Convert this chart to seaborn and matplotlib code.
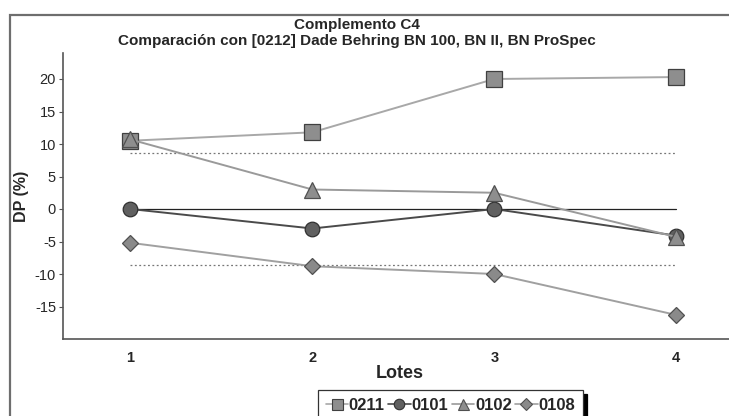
import matplotlib
matplotlib.use("Agg")
import matplotlib.pyplot as plt
from matplotlib.patches import Rectangle
from matplotlib.lines import Line2D
import seaborn as sns
import pandas as pd

lotes = [1, 2, 3, 4]
serie_0211 = [10.5, 11.8, 20.0, 20.3]
serie_0101 = [0.0, -3.0, 0.0, -4.1]
serie_0102 = [10.7, 3.0, 2.5, -4.3]
serie_0108 = [-5.2, -8.8, -10.0, -16.3]
series_names = ["0211", "0101", "0102", "0108"]
limit_upper = 8.6
limit_lower = -8.6
y_ticks = [-15, -10, -5, 0, 5, 10, 15, 20]

sns.set_theme(style="white")
plt.rcParams["font.family"] = ["Liberation Sans Narrow", "Liberation Sans", "DejaVu Sans"]

fig = plt.figure(figsize=(7.29, 4.16), dpi=100)
ax = fig.add_axes([63 / 729, 77 / 416, 1 - 63 / 729 + 0.01, 286 / 416])

styles = {
    "0211": dict(marker="s", ms=11, line="#a8a8a8", face="#8e8e8e", edge="#404040"),
    "0101": dict(marker="o", ms=10.5, line="#4a4a4a", face="#606060", edge="#303030"),
    "0102": dict(marker="^", ms=11, line="#9a9a9a", face="#8e8e8e", edge="#505050"),
    "0108": dict(marker="D", ms=8.5, line="#a0a0a0", face="#8a8a8a", edge="#505050"),
}
values = {"0211": serie_0211, "0101": serie_0101, "0102": serie_0102, "0108": serie_0108}

# reference lines: zero line and dotted limits
ax.plot([lotes[0], lotes[-1]], [0, 0], color="#222222", lw=0.9, zorder=1)
for lim in (limit_upper, limit_lower):
    ax.plot([lotes[0], lotes[-1]], [lim, lim], color="#777777", lw=0.9,
            linestyle=(0, (1.5, 2)), zorder=1)

handles = []
for name in series_names:
    st = styles[name]
    df = pd.DataFrame({"Lotes": lotes, "DP": values[name]})
    sns.lineplot(data=df, x="Lotes", y="DP", ax=ax, color=st["line"], lw=1.4,
                 marker=st["marker"], markersize=st["ms"],
                 markerfacecolor=st["face"], markeredgecolor=st["edge"],
                 markeredgewidth=0.9, zorder=3)
    handles.append(Line2D([], [], color=st["line"], lw=1.2, marker=st["marker"],
                          markersize=st["ms"] * 0.72, markerfacecolor=st["face"],
                          markeredgecolor=st["edge"], markeredgewidth=0.8))

ax.set_xlim(0.63, 4.33)
ax.set_ylim(-20, 24)
ax.set_xticks(lotes)
ax.set_xticklabels([str(v) for v in lotes], fontweight="bold", fontsize=10.5)
ax.set_yticks(y_ticks)
ax.set_yticklabels([str(v) for v in y_ticks], fontsize=10.5)
ax.tick_params(axis="y", left=True, length=3, width=0.8, color="#555555", pad=2)
ax.tick_params(axis="x", bottom=False, pad=3)
ax.set_xlabel("Lotes", fontweight="bold", fontsize=13, labelpad=0)
ax.set_ylabel("DP (%)", fontweight="bold", fontsize=11.5, labelpad=4)
for side in ("top", "right"):
    ax.spines[side].set_visible(False)
for side in ("left", "bottom"):
    ax.spines[side].set_color("#555555")
    ax.spines[side].set_linewidth(1.2)

fig.text(0.49, 1 - 25 / 416, "Complemento C4", ha="center", va="center",
         fontweight="bold", fontsize=11)
fig.text(0.49, 1 - 41 / 416, "Comparación con [0212] Dade Behring BN 100, BN II, BN ProSpec",
         ha="center", va="center", fontweight="bold", fontsize=11)

# outer frame
fig.patches.append(Rectangle((10 / 729, -0.05), 1.0, 1 - 15 / 416 + 0.05,
                             transform=fig.transFigure, fill=False,
                             edgecolor="#6e6e6e", lw=1.6))

leg = fig.legend(handles, series_names, loc="lower left",
                 bbox_to_anchor=(318 / 729, -4 / 416), ncol=4, frameon=True,
                 fancybox=False, edgecolor="#333333",
                 prop={"weight": "bold", "size": 12},
                 handlelength=1.35, handletextpad=0.05, columnspacing=0.2,
                 borderpad=0.45, borderaxespad=0,
                 shadow={"color": "black", "alpha": 1, "ox": 3, "oy": -3})
leg.get_frame().set_linewidth(0.9)

fig.savefig("out.png", dpi=100)
